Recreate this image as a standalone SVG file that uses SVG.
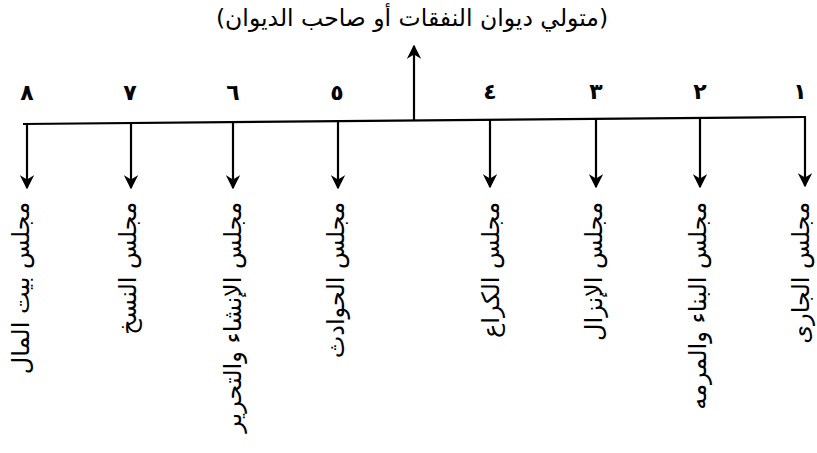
<svg xmlns="http://www.w3.org/2000/svg" width="817" height="453" viewBox="0 0 817 453">
<defs>
<marker id="ah" viewBox="0 0 10 10" refX="9" refY="5" markerWidth="6.5" markerHeight="6.5" orient="auto" markerUnits="strokeWidth">
<path d="M0,0 L10,5 L0,10 L3,5 Z" fill="#000"/>
</marker>
<style>
.t{font-family:"DejaVu Sans",sans-serif;fill:#000}
.title{font-size:23.5px;text-anchor:middle}
.num{font-size:22px;text-anchor:middle;font-weight:bold}
.lbl{font-size:24px;text-anchor:end;dominant-baseline:central}
.ln{stroke:#000;stroke-width:2.2;fill:none}
</style>
</defs>
<rect width="817" height="453" fill="#fff"/>
<g id="root">
<text class="t title" x="412" y="26">(متولي ديوان النفقات أو صاحب الديوان)</text>
</g>
<g id="connectors">
<line class="ln" x1="23" y1="124" x2="806" y2="117"/>
<line class="ln" x1="414" y1="121" x2="414" y2="46" marker-end="url(#ah)"/>
<line class="ln" x1="27" y1="124" x2="27" y2="188" marker-end="url(#ah)"/>
<line class="ln" x1="131" y1="123" x2="131" y2="188" marker-end="url(#ah)"/>
<line class="ln" x1="233" y1="122" x2="233" y2="188" marker-end="url(#ah)"/>
<line class="ln" x1="338" y1="121" x2="338" y2="188" marker-end="url(#ah)"/>
<line class="ln" x1="490" y1="120" x2="490" y2="187" marker-end="url(#ah)"/>
<line class="ln" x1="596" y1="119" x2="596" y2="187" marker-end="url(#ah)"/>
<line class="ln" x1="700" y1="118" x2="700" y2="187" marker-end="url(#ah)"/>
<line class="ln" x1="805" y1="117" x2="805" y2="186" marker-end="url(#ah)"/>
</g>
<g id="n8"><text class="t num" x="27" y="100">٨</text><text class="t lbl" transform="translate(21,202) rotate(-90)">مجلس بيت المال</text></g>
<g id="n7"><text class="t num" x="130" y="100">٧</text><text class="t lbl" transform="translate(128,202) rotate(-90)">مجلس النسخ</text></g>
<g id="n6"><text class="t num" x="233" y="100">٦</text><text class="t lbl" transform="translate(233,202) rotate(-90)">مجلس الإنشاء والتحرير</text></g>
<g id="n5"><text class="t num" x="337" y="100">٥</text><text class="t lbl" transform="translate(336,202) rotate(-90)">مجلس الحوادث</text></g>
<g id="n4"><text class="t num" x="490" y="99">٤</text><text class="t lbl" transform="translate(491,202) rotate(-90)">مجلس الكراع</text></g>
<g id="n3"><text class="t num" x="596" y="99">٣</text><text class="t lbl" transform="translate(594,202) rotate(-90)">مجلس الإنزال</text></g>
<g id="n2"><text class="t num" x="700" y="99">٢</text><text class="t lbl" transform="translate(698,202) rotate(-90)">مجلس البناء والمرمه</text></g>
<g id="n1"><text class="t num" x="800" y="99">١</text><text class="t lbl" transform="translate(801,202) rotate(-90)">مجلس الجارى</text></g>
</svg>
